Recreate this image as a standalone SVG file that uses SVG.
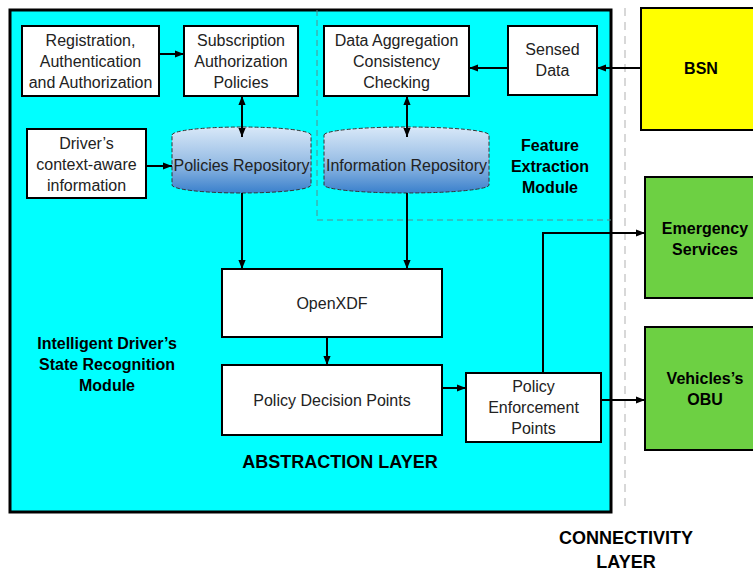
<svg xmlns="http://www.w3.org/2000/svg" width="753" height="571" viewBox="0 0 753 571">
  <defs>
    <linearGradient id="repoFill" x1="0" y1="0" x2="0" y2="1">
      <stop offset="0" stop-color="#d8e8f8"/>
      <stop offset="0.5" stop-color="#9cc0e6"/>
      <stop offset="1" stop-color="#3a80cc"/>
    </linearGradient>
    <marker id="arr" viewBox="0 0 10 10" refX="10" refY="5" markerWidth="10" markerHeight="9" markerUnits="userSpaceOnUse" orient="auto-start-reverse">
      <path d="M0,1 L10,5 L0,9 Z" fill="#000"/>
    </marker>
    <style>
      .box { fill: #fff; stroke: #000; stroke-width: 2; }
      .txt { font-family: "Liberation Sans", Arial, sans-serif; font-size: 16px; fill: #222; text-anchor: middle; }
      .bold { font-family: "Liberation Sans", Arial, sans-serif; font-size: 16px; font-weight: bold; fill: #000; text-anchor: middle; }
      .big { font-size: 18px; }
      .repo { fill: url(#repoFill); stroke: #333; stroke-width: 1; stroke-dasharray: 4 2; }
      .edge { fill: none; stroke: #000; stroke-width: 2; }
    </style>
  </defs>

  <rect width="753" height="571" fill="#fff"/>

  <!-- abstraction layer -->
  <g id="abstraction-layer">
    <rect x="10" y="10" width="601" height="502" fill="#00ffff" stroke="#000" stroke-width="3"/>
    <path d="M317,10 V220 H611" fill="none" stroke="#5a8a8a" stroke-width="1" stroke-dasharray="6 4"/>
    <text class="bold big" x="340" y="468">ABSTRACTION LAYER</text>
  </g>

  <!-- layer separator -->
  <line x1="625" y1="8" x2="625" y2="512" stroke="#ccc" stroke-width="1.5" stroke-dasharray="8 6"/>

  <g id="idsr-module-label">
    <text class="bold" x="107" y="349">Intelligent Driver’s</text>
    <text class="bold" x="107" y="370">State Recognition</text>
    <text class="bold" x="107" y="391">Module</text>
  </g>

  <g id="feature-module-label">
    <text class="bold" x="550" y="151">Feature</text>
    <text class="bold" x="550" y="172">Extraction</text>
    <text class="bold" x="550" y="193">Module</text>
  </g>

  <g id="registration">
    <rect class="box" x="22" y="26" width="137" height="70"/>
    <text class="txt" x="90.5" y="46">Registration,</text>
    <text class="txt" x="90.5" y="67">Authentication</text>
    <text class="txt" x="90.5" y="88">and Authorization</text>
  </g>

  <g id="subscription">
    <rect class="box" x="184" y="26" width="114" height="70"/>
    <text class="txt" x="241" y="46">Subscription</text>
    <text class="txt" x="241" y="67">Authorization</text>
    <text class="txt" x="241" y="88">Policies</text>
  </g>

  <g id="data-aggregation">
    <rect class="box" x="324" y="26" width="145" height="70"/>
    <text class="txt" x="396.5" y="46">Data Aggregation</text>
    <text class="txt" x="396.5" y="67">Consistency</text>
    <text class="txt" x="396.5" y="88">Checking</text>
  </g>

  <g id="sensed-data">
    <rect class="box" x="508" y="26" width="89" height="69"/>
    <text class="txt" x="552.5" y="55">Sensed</text>
    <text class="txt" x="552.5" y="76">Data</text>
  </g>

  <g id="drivers-context">
    <rect class="box" x="27" y="129" width="119" height="69"/>
    <text class="txt" x="86.5" y="149">Driver’s</text>
    <text class="txt" x="86.5" y="170">context-aware</text>
    <text class="txt" x="86.5" y="191">information</text>
  </g>

  <g id="policies-repository">
    <path class="repo" d="M172,135 A69.5,8 0 0 1 311,135 V185 A69.5,8 0 0 1 172,185 Z"/>
    <text class="txt" x="241.5" y="171">Policies Repository</text>
  </g>

  <g id="information-repository">
    <path class="repo" d="M324,135 A82.5,8 0 0 1 489,135 V185 A82.5,8 0 0 1 324,185 Z"/>
    <text class="txt" x="406.5" y="171">Information Repository</text>
  </g>

  <g id="openxdf">
    <rect class="box" x="222" y="269" width="220" height="68"/>
    <text class="txt" x="332" y="309">OpenXDF</text>
  </g>

  <g id="pdp">
    <rect class="box" x="222" y="365" width="220" height="70"/>
    <text class="txt" x="332" y="406">Policy Decision Points</text>
  </g>

  <g id="pep">
    <rect class="box" x="466" y="373" width="135" height="69"/>
    <text class="txt" x="533.5" y="392">Policy</text>
    <text class="txt" x="533.5" y="413">Enforcement</text>
    <text class="txt" x="533.5" y="434">Points</text>
  </g>

  <g id="bsn">
    <rect x="641" y="8" width="120" height="122" fill="#ffff00" stroke="#000" stroke-width="2"/>
    <text class="bold" x="701" y="74">BSN</text>
  </g>

  <g id="emergency-services">
    <rect x="645" y="177" width="120" height="121" fill="#6dd043" stroke="#000" stroke-width="2"/>
    <text class="bold" x="705" y="234">Emergency</text>
    <text class="bold" x="705" y="255">Services</text>
  </g>

  <g id="vehicles-obu">
    <rect x="645" y="327" width="120" height="123" fill="#6dd043" stroke="#000" stroke-width="2"/>
    <text class="bold" x="705" y="384">Vehicles’s</text>
    <text class="bold" x="705" y="405">OBU</text>
  </g>

  <g id="connectivity-label">
    <text class="bold big" x="626" y="544">CONNECTIVITY</text>
    <text class="bold big" x="626" y="568">LAYER</text>
  </g>

  <!-- connectors -->
  <g id="connectors">
    <line class="edge" x1="159" y1="54" x2="184" y2="54" marker-end="url(#arr)"/>
    <line class="edge" x1="146" y1="166" x2="172" y2="166" marker-end="url(#arr)"/>
    <line class="edge" x1="242" y1="96" x2="242" y2="137" marker-start="url(#arr)" marker-end="url(#arr)"/>
    <line class="edge" x1="407" y1="96" x2="407" y2="137" marker-start="url(#arr)" marker-end="url(#arr)"/>
    <line class="edge" x1="508" y1="68" x2="469" y2="68" marker-end="url(#arr)"/>
    <line class="edge" x1="641" y1="68" x2="597" y2="68" marker-end="url(#arr)"/>
    <line class="edge" x1="242" y1="193" x2="242" y2="269" marker-end="url(#arr)"/>
    <line class="edge" x1="407" y1="193" x2="407" y2="269" marker-end="url(#arr)"/>
    <line class="edge" x1="327" y1="337" x2="327" y2="365" marker-end="url(#arr)"/>
    <line class="edge" x1="442" y1="388" x2="466" y2="388" marker-end="url(#arr)"/>
    <polyline class="edge" points="543,373 543,233 645,233" marker-end="url(#arr)"/>
    <line class="edge" x1="601" y1="400" x2="645" y2="400" marker-end="url(#arr)"/>
  </g>
</svg>
